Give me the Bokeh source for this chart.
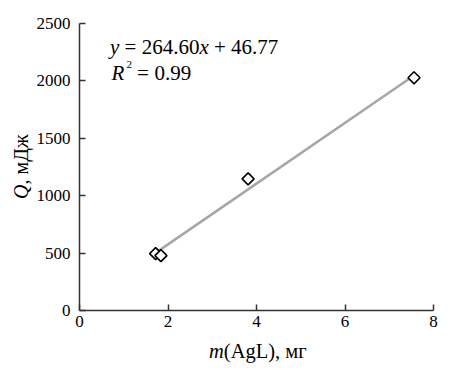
import math
from bokeh.plotting import figure
from bokeh.models import Range1d, Label, FixedTicker
from bokeh.embed import file_html
from bokeh.resources import INLINE

# data
mass_mg = [1.72, 1.84, 3.81, 7.56]
heat_mJ = [495, 478, 1147, 2027]
slope = 264.60
intercept = 46.77
r_squared = 0.99
x_ticks = [0, 2, 4, 6, 8]
y_ticks = [0, 500, 1000, 1500, 2000, 2500]
x_label_italic, x_label_rest = "m", "(AgL), мг"
y_label_italic, y_label_rest = "Q", ", мДж"

SERIF = "Liberation Serif"
AXIS_COLOR = "#333333"

W, H = 459, 370
X0_PX, X8_PX = 79, 433      # pixel positions of x=0 and x=8
Y0_PX, Y2500_PX = 310, 23   # pixel positions of y=0 and y=2500 (from top)
sx = (X8_PX - X0_PX) / 8.0
sy = (Y0_PX - Y2500_PX) / 2500.0

p = figure(width=W, height=H, output_backend="svg", toolbar_location=None,
           x_range=Range1d(-X0_PX / sx, (W - X0_PX) / sx),
           y_range=Range1d(-(H - Y0_PX) / sy, 2500 + Y2500_PX / sy),
           min_border=0, min_border_left=0, min_border_right=0,
           min_border_top=0, min_border_bottom=0)
p.title.visible = False
p.outline_line_color = None
p.xgrid.visible = False
p.ygrid.visible = False
p.background_fill_color = "white"
p.border_fill_color = "white"

for ax in (p.xaxis[0], p.yaxis[0]):
    ax.axis_line_color = AXIS_COLOR
    ax.axis_line_width = 1.5
    ax.major_tick_line_color = AXIS_COLOR
    ax.major_tick_line_width = 1.5
    ax.major_tick_in = 6
    ax.major_tick_out = 0
    ax.minor_tick_line_color = None
    ax.major_label_text_font = SERIF
    ax.major_label_text_font_size = "17px"
    ax.major_label_text_color = "black"
p.xaxis[0].ticker = FixedTicker(ticks=x_ticks)
p.yaxis[0].ticker = FixedTicker(ticks=y_ticks)
p.xaxis[0].bounds = (x_ticks[0], x_ticks[-1])
p.yaxis[0].bounds = (y_ticks[0], y_ticks[-1])
p.xaxis[0].fixed_location = y_ticks[0]
p.yaxis[0].fixed_location = x_ticks[0]
p.xaxis[0].major_label_standoff = 5
p.yaxis[0].major_label_standoff = 9

# fit line
fx = [min(mass_mg), max(mass_mg)]
fy = [slope * v + intercept for v in fx]
p.line(fx, fy, line_color="#a6a6a6", line_width=2.5)

# markers
p.scatter(mass_mg, heat_mJ, marker="square", size=8.5, angle=math.pi / 4,
          fill_color="white", line_color="black", line_width=1.6)

def lab(x, y, text, size="21px", style="normal", xo=0, yo=0, align="left",
        baseline="alphabetic", angle=0):
    p.add_layout(Label(x=x, y=y, text=text, text_font=SERIF,
                       text_font_size=size, text_font_style=style, text_color="black",
                       x_offset=xo, y_offset=yo, text_align=align, text_baseline=baseline,
                       angle=angle))

# equation
ex, ey1, ey2 = 0.689, 2297, 2071
lab(ex, ey1, "y", style="italic")
lab(ex, ey1, "=", xo=14.6)
lab(ex, ey1, f"{slope:.2f}", xo=31.7)
lab(ex, ey1, "x", style="italic", xo=89.4)
lab(ex, ey1, "+", xo=104.0)
lab(ex, ey1, f"{intercept:.2f}", xo=121.1)
lab(ex, ey2, "R", style="italic", xo=1.5)
lab(ex, ey2, "2", size="11px", xo=16.5, yo=8.3)
lab(ex, ey2, "=", xo=27.0)
lab(ex, ey2, f"{r_squared:.2f}", xo=44.5)

# axis labels
lab(3.261, -357, x_label_italic, size="20.5px", style="italic", align="right")
lab(3.261, -357, x_label_rest, size="20.5px", align="left")
lab(-1.322, 1098, y_label_italic, size="20px", style="italic", align="right", angle=math.pi / 2)
lab(-1.322, 1098, y_label_rest, size="20px", align="left", angle=math.pi / 2)

open("out.html", "w").write(file_html(p, INLINE))
